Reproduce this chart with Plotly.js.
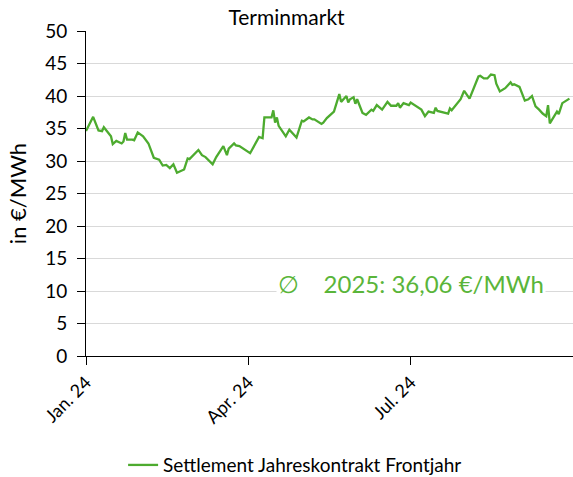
<!DOCTYPE html>
<html>
<head>
<meta charset="utf-8">
<script src="https://cdn.plot.ly/plotly-3.0.1.min.js"></script>
<style>html,body{margin:0;padding:0;background:#fff;}#chart{width:573px;height:477px;}</style>
</head>
<body>
<div id="chart"></div>
<script>
const dates = [
"2024-01-01","2024-01-05","2024-01-08","2024-01-10","2024-01-11","2024-01-14","2024-01-15","2024-01-16","2024-01-18","2024-01-21",
"2024-01-22","2024-01-23","2024-01-24","2024-01-27","2024-01-28","2024-01-30","2024-02-02","2024-02-05","2024-02-08","2024-02-11",
"2024-02-13","2024-02-15","2024-02-17","2024-02-19","2024-02-21","2024-02-25","2024-02-27","2024-02-28","2024-03-01","2024-03-04",
"2024-03-06","2024-03-08","2024-03-12","2024-03-14","2024-03-18","2024-03-20","2024-03-21","2024-03-24","2024-03-25","2024-03-27",
"2024-04-02","2024-04-05","2024-04-07","2024-04-09","2024-04-10","2024-04-14","2024-04-15","2024-04-16","2024-04-17","2024-04-18",
"2024-04-22","2024-04-24","2024-04-28","2024-05-01","2024-05-02","2024-05-05","2024-05-07","2024-05-08","2024-05-12","2024-05-13",
"2024-05-15","2024-05-19","2024-05-20","2024-05-22","2024-05-23","2024-05-26","2024-05-27","2024-05-28","2024-05-30","2024-05-31",
"2024-06-01","2024-06-02","2024-06-04","2024-06-06","2024-06-09","2024-06-10","2024-06-12","2024-06-15","2024-06-18","2024-06-20",
"2024-06-23","2024-06-24","2024-06-25","2024-06-27","2024-06-30","2024-07-01","2024-07-03","2024-07-07","2024-07-09","2024-07-11",
"2024-07-14","2024-07-15","2024-07-16","2024-07-22","2024-07-23","2024-07-24","2024-07-29","2024-07-31","2024-08-03","2024-08-05",
"2024-08-08","2024-08-09","2024-08-11","2024-08-13","2024-08-15","2024-08-17","2024-08-18","2024-08-20","2024-08-23","2024-08-26",
"2024-08-27","2024-08-28","2024-08-31","2024-09-03","2024-09-05","2024-09-07","2024-09-09","2024-09-11","2024-09-13","2024-09-15",
"2024-09-16","2024-09-17","2024-09-19","2024-09-21","2024-09-22","2024-09-24","2024-09-28"
];
const settlement = [
34.6,36.8,34.7,34.6,35.2,34.2,33.8,32.6,33.1,32.7,
33.0,34.3,33.3,33.3,33.2,34.4,33.8,32.7,30.5,30.2,
29.3,29.4,28.9,29.5,28.2,28.7,30.4,30.3,30.9,31.7,
30.9,30.6,29.5,30.6,32.3,30.9,31.9,32.7,32.4,32.3,
31.2,32.7,33.7,33.5,36.7,36.7,37.8,35.9,36.7,35.4,
33.8,34.8,33.6,36.2,36.1,36.7,36.4,36.4,35.7,35.9,
36.6,37.6,38.4,40.3,39.1,40.0,39.0,39.5,39.8,38.8,
39.5,38.8,37.4,37.1,37.9,37.7,38.6,37.9,39.1,38.5,
38.5,38.9,38.2,38.9,38.6,39.0,38.6,37.9,36.9,37.6,
37.4,38.2,37.7,37.3,38.1,37.8,39.5,40.8,39.6,40.9,
43.0,43.1,42.7,42.7,43.3,43.2,41.9,40.7,41.2,42.1,
41.7,41.8,41.4,39.3,39.5,40.0,38.4,37.9,37.3,36.9,
38.6,35.8,36.8,37.6,37.2,38.9,39.6
];
const tickDates = ["2024-01-01","2024-04-01","2024-07-01"];
const tickLabels = ["Jan. 24","Apr. 24","Jul. 24"];
const seriesName = "Settlement Jahreskontrakt Frontjahr";
const titleText = "Terminmarkt";
const yTitle = "in €/MWh";
const avgLabel = "∅    2025: 36,06 €/MWh";

const FONT = "Lato, 'Open Sans', sans-serif";
const GREEN = "#4DAB2F";

Plotly.newPlot("chart", [{
  x: dates, y: settlement, type: "scatter", mode: "lines",
  name: seriesName,
  line: {color: GREEN, width: 2.3}
}], {
  width: 573, height: 477,
  margin: {l: 86, r: 0, t: 31, b: 121},
  paper_bgcolor: "#fff", plot_bgcolor: "#fff",
  font: {family: FONT, color: "#000"},
  title: {text: titleText, font: {size: 21, family: FONT, color: "#000"}, x: 0.5, xref: "container", xanchor: "center", y: 0.962, yref: "container", yanchor: "middle"},
  xaxis: {
    type: "date", range: ["2024-01-01", "2024-09-30"],
    tickvals: tickDates, ticktext: tickLabels, tickangle: -45,
    tickfont: {size: 18, family: FONT, color: "#000"},
    ticks: "outside", ticklen: 8, tickcolor: "#000",
    showgrid: false, zeroline: false,
    showline: true, linecolor: "#000", linewidth: 1
  },
  yaxis: {
    range: [0, 50], tickvals: [0,5,10,15,20,25,30,35,40,45,50],
    tickfont: {size: 19, family: FONT, color: "#000"},
    ticks: "outside", ticklen: 8, tickcolor: "#000", ticklabelstandoff: 6,
    showgrid: true, gridcolor: "#d9d9d9", gridwidth: 1, zeroline: false,
    showline: true, linecolor: "#000", linewidth: 1,
    title: {text: yTitle, font: {size: 22, family: FONT, color: "#000"}, standoff: 12}
  },
  showlegend: true,
  legend: {orientation: "h", x: 0.515, xref: "container", xanchor: "center", y: 0.025, yref: "container", yanchor: "middle",
           font: {size: 19, family: FONT, color: "#000"}},
  annotations: [{
    xref: "paper", yref: "y", x: 0.668, y: 11.1, xanchor: "center", yanchor: "middle",
    text: avgLabel, showarrow: false, bgcolor: "#fff",
    font: {size: 24, family: FONT, color: "#5AB53A"}
  }]
}, {displayModeBar: false, staticPlot: true});
</script>
</body>
</html>
